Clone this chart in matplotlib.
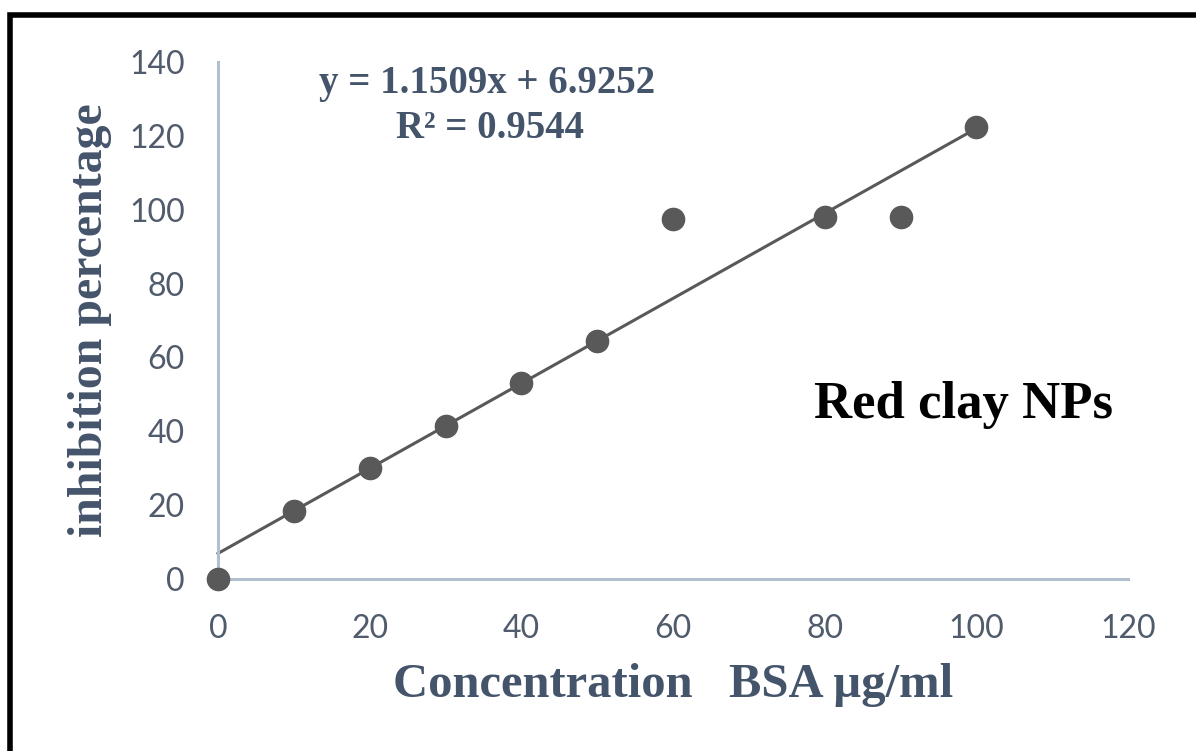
import matplotlib
matplotlib.use("Agg")
import matplotlib.pyplot as plt
from matplotlib.patches import Rectangle
import numpy as np

# Data
concentration = [0, 10, 20, 30, 40, 50, 60, 80, 90, 100]
inhibition = [0, 18.4, 30.1, 41.4, 53.1, 64.4, 97.5, 98.0, 98.0, 122.4]
slope = 1.1509
intercept = 6.9252
r2 = 0.9544
x_ticks = [0, 20, 40, 60, 80, 100, 120]
y_ticks = [0, 20, 40, 60, 80, 100, 120, 140]

W, H = 1196, 751
fig = plt.figure(figsize=(W / 100, H / 100), dpi=100)
ax = fig.add_axes([218 / W, 1 - 579 / H, 910 / W, 517 / H])

text_col = "#44546A"
tick_col = "#505b6b"
axis_col = "#b3bfcf"
mark_col = "#595959"

# trendline
xl = np.array([0, 100])
ax.plot(xl, slope * xl + intercept, color=mark_col, lw=2.2, zorder=2, clip_on=False)
ax.plot(concentration, inhibition, "o", color=mark_col, ms=16, zorder=3, clip_on=False)

ax.set_xlim(0, 120)
ax.set_ylim(0, 140)
ax.set_xticks(x_ticks)
ax.set_yticks(y_ticks)
for s in ["top", "right"]:
    ax.spines[s].set_visible(False)
for s in ["left", "bottom"]:
    ax.spines[s].set_color(axis_col)
    ax.spines[s].set_linewidth(2.2)
ax.tick_params(length=0, labelsize=23, labelcolor=tick_col)
ax.tick_params(axis="x", pad=25)
ax.tick_params(axis="y", pad=24)
for lab in ax.get_xticklabels() + ax.get_yticklabels():
    lab.set_fontfamily("Lato")

serif = "Liberation Serif"
ax.set_xlabel("Concentration   BSA µg/ml", fontfamily=serif, fontweight="bold",
              fontsize=35, color=text_col, labelpad=14)
ax.set_ylabel("inhibition percentage", fontfamily=serif, fontweight="bold",
              fontsize=34.5, color=text_col, labelpad=12)

fig.text(487 / W, 1 - 83 / H, f"y = {slope}x + {intercept}", ha="center", va="center",
         fontfamily=serif, fontweight="bold", fontsize=28, color=text_col)
fig.text(490 / W, 1 - 129 / H, f"R² = {r2}", ha="center", va="center",
         fontfamily=serif, fontweight="bold", fontsize=28, color=text_col)
fig.text(964 / W, 1 - 405 / H, "Red clay NPs", ha="center", va="center",
         fontfamily=serif, fontweight="bold", fontsize=38, color="black")

# outer frame
fig.patches.append(Rectangle((10 / W, -0.1), 1.2, 1.1 - 14.5 / H, transform=fig.transFigure,
                             fill=False, edgecolor="black", lw=4, zorder=10))

fig.savefig("out.png", dpi=100)
